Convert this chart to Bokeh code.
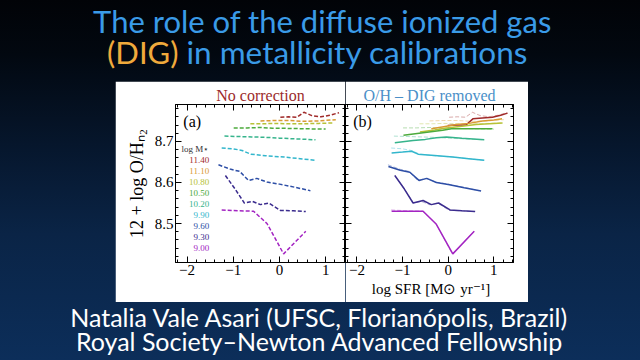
import numpy as np
from bokeh.plotting import figure
from bokeh.models import Range1d, LinearAxis, FixedTicker, Spacer, GlobalInlineStyleSheet, CustomJSTickFormatter
from bokeh.layouts import row, column
from bokeh.core.properties import value
from bokeh.embed import file_html
from bokeh.resources import INLINE

# ---------------- data ----------------
masses = ["11.40", "11.10", "10.80", "10.50", "10.20", "9.90", "9.60", "9.30", "9.00"]
colors = ["#a02a2a", "#d99a34", "#b7c236", "#4cab3c", "#36b48c", "#32b6cc", "#2d4ea6", "#3b2c8e", "#a324c2"]

# panel (a): no correction  (log SFR, 12+log O/H)
a_sfr_1140 = [0.02, 0.20, 0.38, 0.53, 0.70, 0.90, 1.10, 1.29]
a_oh_1140 = [8.759, 8.760, 8.759, 8.771, 8.763, 8.760, 8.764, 8.770]
a_sfr_1110 = [-0.41, -0.10, 0.20, 0.50, 0.85, 1.22]
a_oh_1110 = [8.750, 8.751, 8.751, 8.749, 8.750, 8.753]
a_sfr_1080 = [-0.63, -0.35, -0.10, 0.20, 0.50, 0.85, 1.15]
a_oh_1080 = [8.743, 8.743, 8.744, 8.743, 8.743, 8.744, 8.745]
a_sfr_1050 = [-0.99, -0.70, -0.40, -0.15, 0.10, 0.50, 1.00]
a_oh_1050 = [8.733, 8.733, 8.734, 8.732, 8.732, 8.731, 8.730]
a_sfr_1020 = [-1.19, -0.90, -0.60, -0.30, 0.00, 0.40, 0.78]
a_oh_1020 = [8.713, 8.712, 8.711, 8.710, 8.708, 8.706, 8.704]
a_sfr_990 = [-1.25, -1.00, -0.81, -0.62, -0.30, 0.10, 0.45, 0.78]
a_oh_990 = [8.684, 8.682, 8.678, 8.669, 8.665, 8.662, 8.658, 8.654]
a_sfr_960 = [-1.32, -1.05, -0.86, -0.67, -0.49, -0.27, 0.00, 0.35, 0.67]
a_oh_960 = [8.643, 8.632, 8.627, 8.605, 8.610, 8.601, 8.596, 8.588, 8.580]
a_sfr_930 = [-1.17, -0.96, -0.76, -0.59, -0.41, -0.23, 0.02, 0.30, 0.57]
a_oh_930 = [8.617, 8.584, 8.550, 8.554, 8.546, 8.550, 8.532, 8.531, 8.529]
a_sfr_900 = [-1.25, -0.90, -0.56, -0.27, 0.09, 0.57]
a_oh_900 = [8.533, 8.531, 8.530, 8.500, 8.426, 8.481]

# panel (b): O/H - DIG removed
b_sfr_1140 = [-0.01, 0.20, 0.39, 0.54, 0.75, 0.97, 1.15, 1.30]
b_oh_1140 = [8.739, 8.740, 8.740, 8.755, 8.757, 8.759, 8.764, 8.769]
b_sfr_1110 = [-0.37, -0.10, 0.17, 0.45, 0.75, 1.00, 1.18]
b_oh_1110 = [8.731, 8.736, 8.741, 8.744, 8.750, 8.752, 8.755]
b_sfr_1080 = [-0.62, -0.30, -0.04, 0.30, 0.61, 0.90, 1.19]
b_oh_1080 = [8.723, 8.728, 8.733, 8.737, 8.741, 8.743, 8.745]
b_sfr_1050 = [-0.98, -0.55, -0.12, 0.07, 0.50, 0.97]
b_oh_1050 = [8.715, 8.721, 8.727, 8.731, 8.731, 8.731]
b_sfr_1020 = [-1.17, -0.77, -0.50, -0.26, -0.04, 0.30, 0.79]
b_oh_1020 = [8.697, 8.702, 8.705, 8.709, 8.711, 8.708, 8.704]
b_sfr_990 = [-1.24, -1.00, -0.80, -0.66, -0.30, 0.10, 0.45, 0.79]
b_oh_990 = [8.672, 8.674, 8.676, 8.669, 8.666, 8.662, 8.658, 8.654]
b_sfr_960 = [-1.31, -1.05, -0.84, -0.64, -0.47, -0.26, 0.00, 0.35, 0.72]
b_oh_960 = [8.639, 8.630, 8.625, 8.605, 8.610, 8.600, 8.595, 8.587, 8.579]
b_sfr_930 = [-1.17, -0.96, -0.77, -0.55, -0.37, -0.21, 0.04, 0.30, 0.59]
b_oh_930 = [8.617, 8.584, 8.550, 8.556, 8.546, 8.550, 8.533, 8.531, 8.529]
b_sfr_900 = [-1.24, -0.90, -0.55, -0.26, 0.10, 0.57]
b_oh_900 = [8.530, 8.530, 8.530, 8.498, 8.426, 8.481]

a_series = [(a_sfr_1140, a_oh_1140), (a_sfr_1110, a_oh_1110), (a_sfr_1080, a_oh_1080),
            (a_sfr_1050, a_oh_1050), (a_sfr_1020, a_oh_1020), (a_sfr_990, a_oh_990),
            (a_sfr_960, a_oh_960), (a_sfr_930, a_oh_930), (a_sfr_900, a_oh_900)]
b_series = [(b_sfr_1140, b_oh_1140), (b_sfr_1110, b_oh_1110), (b_sfr_1080, b_oh_1080),
            (b_sfr_1050, b_oh_1050), (b_sfr_1020, b_oh_1020), (b_sfr_990, b_oh_990),
            (b_sfr_960, b_oh_960), (b_sfr_930, b_oh_930), (b_sfr_900, b_oh_900)]

x_major = [-2, -1, 0, 1]
x_labels = {-2: "\u22122", -1: "\u22121", 0: "0", 1: "1"}
y_major = [8.5, 8.6, 8.7]

SERIF = "Liberation Serif"
SANS = "Lato"

# ---------------- helpers ----------------
x_minor = [round(v, 2) for v in np.arange(-2.2, 1.41, 0.2)]
y_minor = [round(v, 2) for v in np.arange(8.42, 8.79, 0.02)]


def style_axis(ax, ticker, labels, overrides=None):
    ax.ticker = ticker
    ax.major_tick_in = 6
    ax.major_tick_out = 0
    ax.minor_tick_in = 3
    ax.minor_tick_out = 0
    ax.axis_line_color = "black"
    ax.major_tick_line_color = "black"
    ax.minor_tick_line_color = "black"
    if labels:
        ax.major_label_text_font = SERIF
        ax.major_label_text_font_size = "15px"
        ax.major_label_text_color = "black"
        ax.major_label_standoff = 2
        if overrides:
            ax.major_label_overrides = overrides
    else:
        ax.formatter = CustomJSTickFormatter(code="return ''")
        ax.major_label_text_font_size = "0px"
        ax.major_label_standoff = 0


def make_panel(width, lb, rb, title, tcolor, left_labels, xlabel):
    p = figure(width=width, height=221, x_range=Range1d(-2.25, 1.43), y_range=Range1d(8.405, 8.79),
               output_backend="svg", toolbar_location=None,
               min_border_left=lb, min_border_right=rb, min_border_top=23, min_border_bottom=40)
    p.background_fill_color = "white"
    p.border_fill_color = "white"
    p.outline_line_color = "black"
    p.grid.visible = False
    xt = FixedTicker(ticks=x_major, minor_ticks=x_minor)
    yt = FixedTicker(ticks=y_major, minor_ticks=y_minor)
    bottom = p.below[0]
    left = p.left[0]
    style_axis(bottom, xt, True, x_labels)
    bottom.axis_label = xlabel
    bottom.axis_label_text_font = SERIF
    bottom.axis_label_text_font_size = "15px"
    bottom.axis_label_text_font_style = "normal"
    bottom.axis_label_text_color = "black"
    bottom.axis_label_standoff = 3
    style_axis(left, yt, left_labels)
    if left_labels:
        left.axis_label = "12 + log O/H\u2099\u2082"
        left.axis_label_text_font = SERIF
        left.axis_label_text_font_size = "18px"
        left.axis_label_text_font_style = "normal"
        left.axis_label_text_color = "black"
        left.axis_label_standoff = 5
    top = LinearAxis()
    style_axis(top, xt, False)
    p.add_layout(top, "above")
    right = LinearAxis()
    style_axis(right, yt, False)
    p.add_layout(right, "right")
    p.title.text = title
    p.title.align = "center"
    p.title.text_font = SERIF
    p.title.text_font_size = "16px"
    p.title.text_font_style = "normal"
    p.title.text_color = tcolor
    p.title.standoff = 2
    return p


pa = make_panel(230, 60, 0, "No correction", "#9c2b2b", True, " ")
pb = make_panel(183, 0, 15, "O/H \u2013 DIG removed", "#4a8fc8", False, "log SFR [M\u2299 yr\u207b\u00b9]")

for (xs, ys), c in zip(a_series, colors):
    pa.line(xs, ys, line_color=c, line_width=1.5, line_dash="4 2")
    pb.line(xs, ys, line_color=c, line_width=1.0, line_dash="4 2", line_alpha=0.4)
for (xs, ys), c in zip(b_series, colors):
    pb.line(xs, ys, line_color=c, line_width=1.5)

# panel tags
pa.text(x=[-2.08], y=[8.748], text=["(a)"], text_font=value(SERIF), text_font_size="16px",
        text_baseline="middle", text_align="left", text_color="black")
pb.text(x=[-2.08], y=[8.748], text=["(b)"], text_font=value(SERIF), text_font_size="16px",
        text_baseline="middle", text_align="left", text_color="black")

# mass legend (coloured text)
leg_step = 0.0268
leg_y = [8.6537 - i * leg_step for i in range(len(masses))]
pa.text(x=[-1.52] * len(masses), y=leg_y, text=masses, text_color=colors,
        text_font=value(SERIF), text_font_size="9px", text_align="right", text_baseline="middle")
pa.text(x=[-1.52], y=[8.6537 + leg_step], text=["log M\u22c6"], text_color="#333333",
        text_font=value(SERIF), text_font_size="9px", text_align="right", text_baseline="middle")

# ---------------- slide header / footer ----------------
def blank(width, height):
    f = figure(width=width, height=height, x_range=Range1d(0, width), y_range=Range1d(0, height),
               output_backend="svg", toolbar_location=None, title=None,
               x_axis_location=None, y_axis_location=None,
               min_border=0, min_border_left=0, min_border_right=0, min_border_top=0, min_border_bottom=0)
    f.grid.visible = False
    f.outline_line_color = None
    f.background_fill_alpha = 0
    f.border_fill_alpha = 0
    return f

header = blank(640, 81)
header.text(x=[322], y=[61], text=["The role of the diffuse ionized gas"], text_color="#3a9be8",
            text_font=value(SANS), text_font_size="31px", text_align="center", text_baseline="alphabetic")
header.text(x=[178], y=[30], text=["(DIG)"], text_color="#f0aa3c",
            text_font=value(SANS), text_font_size="31px", text_align="right", text_baseline="alphabetic")
header.text(x=[186], y=[30], text=["in metallicity calibrations"], text_color="#3a9be8",
            text_font=value(SANS), text_font_size="31.5px", text_align="left", text_baseline="alphabetic")

footer = blank(640, 58)
footer.text(x=[319, 319], y=[44, 20],
            text=["Natalia Vale Asari (UFSC, Florian\u00f3polis, Brazil)", "Royal Society\u2013Newton Advanced Fellowship"],
            text_color="white", text_font=value(SANS), text_font_size="25px",
            text_align="center", text_baseline="alphabetic")

bg = GlobalInlineStyleSheet(css="html{height:100%;background:linear-gradient(180deg,#010307 0%,#020810 15%,#06162c 40%,#0a2446 65%,#0c2e5a 100%);} body{background:transparent;}")

layout = column(header,
                row(Spacer(width=115, height=221), pa, pb, Spacer(width=112, height=221)),
                footer, stylesheets=[bg])

open("out.html", "w").write(file_html(layout, INLINE))
